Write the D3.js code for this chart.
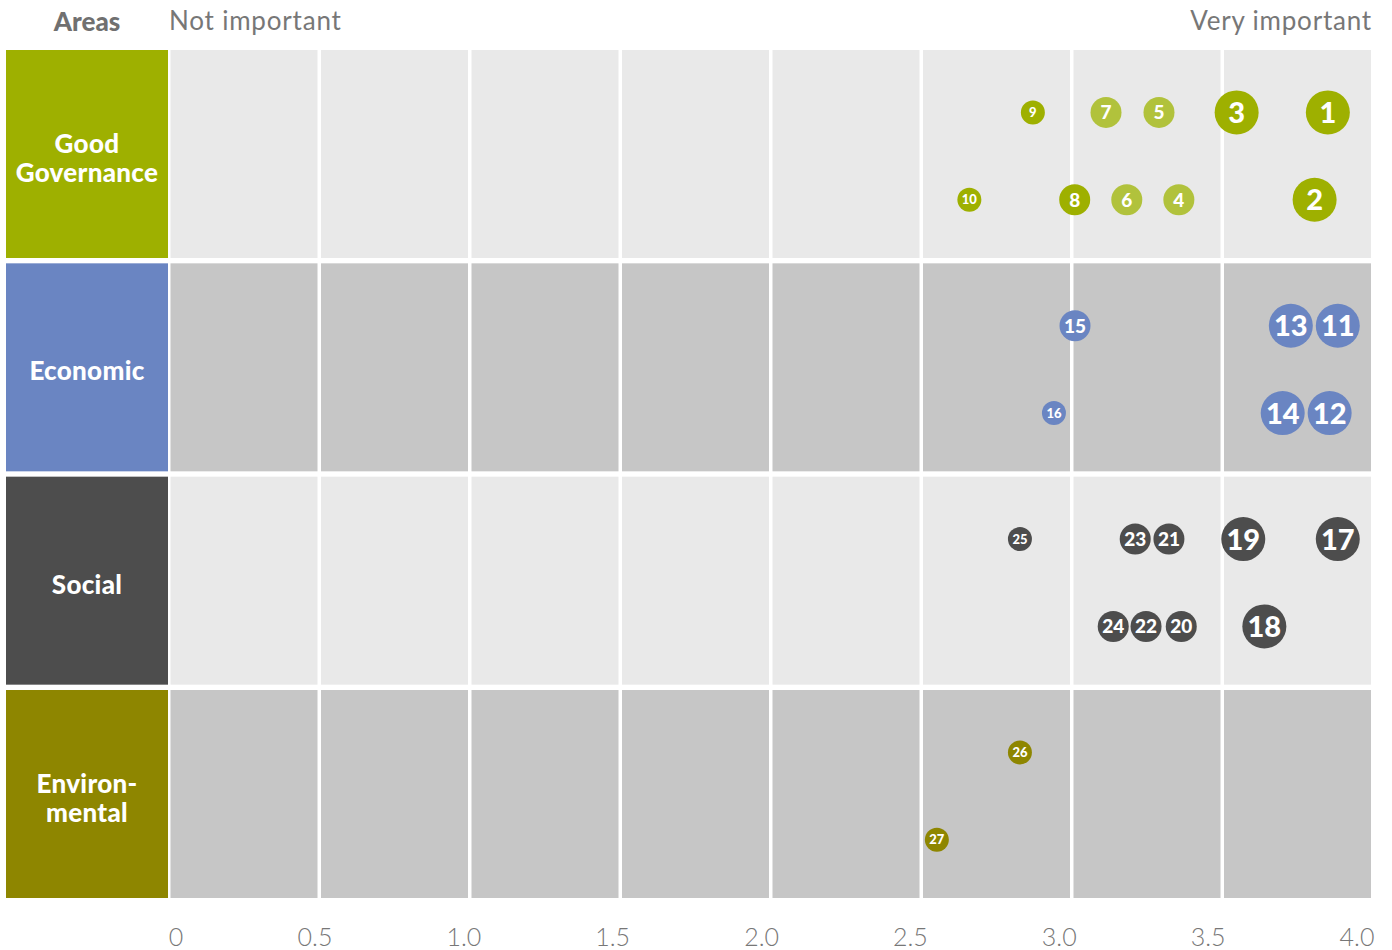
<!DOCTYPE html>
<html>
<head>
  <meta charset="utf-8">
  <title>Areas - importance</title>
  <style>
    body { margin: 0; background: #fff; }
    svg { display: block; font-family: Lato, "Open Sans", sans-serif; }
  </style>
</head>
<body>
  <script src="https://d3js.org/d3.v7.min.js"></script>
  <script>
    // areas (rows) and their colours
    var areas = ['Good Governance', 'Economic', 'Social', 'Environmental'];
    var areaLines = [['Good', 'Governance'], ['Economic'], ['Social'], ['Environ-', 'mental']];
    var areaColors = ['#9eb000', '#6a85c2', '#4d4d4d', '#8e8600'];
    var rowFill = ['#e9e9e9', '#c6c6c6', '#e9e9e9', '#c6c6c6'];

    // items: number, area, value, line inside the row (0 top, 1 bottom), size class, light tone
    var itemIds = [1, 2, 3, 4, 5, 6, 7, 8, 9, 10, 11, 12, 13, 14, 15, 16, 17, 18, 19, 20, 21, 22, 23, 24, 25, 26, 27];
    var itemArea = [0, 0, 0, 0, 0, 0, 0, 0, 0, 0, 1, 1, 1, 1, 1, 1, 2, 2, 2, 2, 2, 2, 2, 2, 2, 3, 3];
    var itemValue = [3.85, 3.806, 3.547, 3.355, 3.289, 3.182, 3.113, 3.009, 2.87, 2.659,
                     3.883, 3.856, 3.727, 3.70, 3.01, 2.94,
                     3.883, 3.639, 3.569, 3.363, 3.322, 3.246, 3.21, 3.137, 2.827,
                     2.827, 2.551];
    var itemLine = [0, 1, 0, 1, 0, 1, 0, 1, 0, 1,
                    0, 1, 0, 1, 0, 1,
                    0, 1, 0, 1, 0, 1, 0, 1, 0,
                    0, 1];
    var itemSize = [3, 3, 3, 2, 2, 2, 2, 2, 1, 1,
                    3, 3, 3, 3, 2, 1,
                    3, 3, 3, 2, 2, 2, 2, 2, 1,
                    1, 1];
    var itemLight = [0, 0, 0, 1, 1, 1, 1, 0, 0, 0,
                     0, 0, 0, 0, 0, 0,
                     0, 0, 0, 0, 0, 0, 0, 0, 0,
                     0, 0];
    var ticks = [0, 0.5, 1.0, 1.5, 2.0, 2.5, 3.0, 3.5, 4.0];

    var W = 1392, H = 950;
    var svg = d3.select('body').append('svg').attr('width', W).attr('height', H);

    var x = d3.scaleLinear().domain([0, 4]).range([169, 1373]);
    var y = d3.scaleBand().domain(areas).range([50, 898]).paddingInner(0.025);
    var lineY = d3.scalePoint().domain([0, 1]).range([0.30, 0.72]);
    var r = d3.scaleOrdinal().domain([1, 2, 3]).range([12, 15.5, 22]);
    var fs = d3.scaleOrdinal().domain([1, 2, 3]).range([13, 19, 29]);
    // tick labels drift a little left of the grid lines in the original
    var labelX = d3.scaleLinear().domain([0.5, 4]).range([315, 1357]);

    var items = itemIds.map(function(id, i) {
      return { id: id, area: areas[itemArea[i]], ai: itemArea[i], v: itemValue[i],
               line: itemLine[i], size: itemSize[i], light: itemLight[i] };
    });

    // row backgrounds, cut into half-step cells
    var cells = [];
    areas.forEach(function(a, ai) {
      for (var k = 0; k < 8; k++) cells.push({ area: a, ai: ai, k: k });
    });
    svg.selectAll('rect.cell').data(cells).enter().append('rect')
      .attr('class', 'cell')
      .attr('x', function(d) { return x(d.k * 0.5) + 1.5; })
      .attr('width', function(d) { return x(0.5) - x(0) - 3.5; })
      .attr('y', function(d) { return y(d.area); })
      .attr('height', y.bandwidth())
      .attr('fill', function(d) { return rowFill[d.ai]; });

    // area boxes
    var box = svg.selectAll('g.area').data(areas).enter().append('g').attr('class', 'area');
    box.append('rect')
      .attr('x', 6).attr('width', 162)
      .attr('y', function(d) { return y(d); })
      .attr('height', y.bandwidth())
      .attr('fill', function(d, i) { return areaColors[i]; });
    box.each(function(d, i) {
      var lines = areaLines[i];
      var cy = y(d) + y.bandwidth() / 2;
      d3.select(this).selectAll('text').data(lines).enter().append('text')
        .attr('x', 87)
        .attr('y', function(t, j) { return cy + 13 + (j - (lines.length - 1) / 2) * 29; })
        .attr('text-anchor', 'middle')
        .attr('fill', '#fff')
        .attr('font-weight', 900)
        .attr('font-size', '26px')
        .attr('letter-spacing', '0.3px')
        .text(function(t) { return t; });
    });

    // bubbles
    var b = svg.selectAll('g.item').data(items).enter().append('g').attr('class', 'item')
      .attr('transform', function(d) {
        return 'translate(' + x(d.v) + ',' + (y(d.area) + lineY(d.line) * y.bandwidth()) + ')';
      });
    b.append('circle')
      .attr('r', function(d) { return r(d.size); })
      .attr('fill', function(d) { return d.light ? '#b1c23c' : areaColors[d.ai]; });
    b.append('text')
      .attr('text-anchor', 'middle')
      .attr('dy', '0.36em')
      .attr('fill', '#fff')
      .attr('font-weight', 900)
      .attr('font-size', function(d) { return fs(d.size) + 'px'; })
      .text(function(d) { return d.id; });

    // header
    svg.append('text').attr('x', 87).attr('y', 31).attr('text-anchor', 'middle')
      .attr('fill', '#707070').attr('font-weight', 900).attr('font-size', '26px')
      .text('Areas');
    svg.append('text').attr('x', 169).attr('y', 30)
      .attr('fill', '#777').attr('font-size', '26px').attr('letter-spacing', '0.8px')
      .text('Not important');
    svg.append('text').attr('x', 1372).attr('y', 30).attr('text-anchor', 'end')
      .attr('fill', '#777').attr('font-size', '26px').attr('letter-spacing', '0.8px')
      .text('Very important');

    // x axis labels
    svg.selectAll('text.tick').data(ticks).enter().append('text')
      .attr('class', 'tick')
      .attr('x', function(d) { return d === 0 ? 176 : labelX(d); })
      .attr('y', 946)
      .attr('text-anchor', 'middle')
      .attr('fill', '#777')
      .attr('font-weight', 300)
      .attr('font-size', '25px')
      .text(function(d) { return d === 0 ? '0' : d3.format('.1f')(d); });
  </script>
</body>
</html>
